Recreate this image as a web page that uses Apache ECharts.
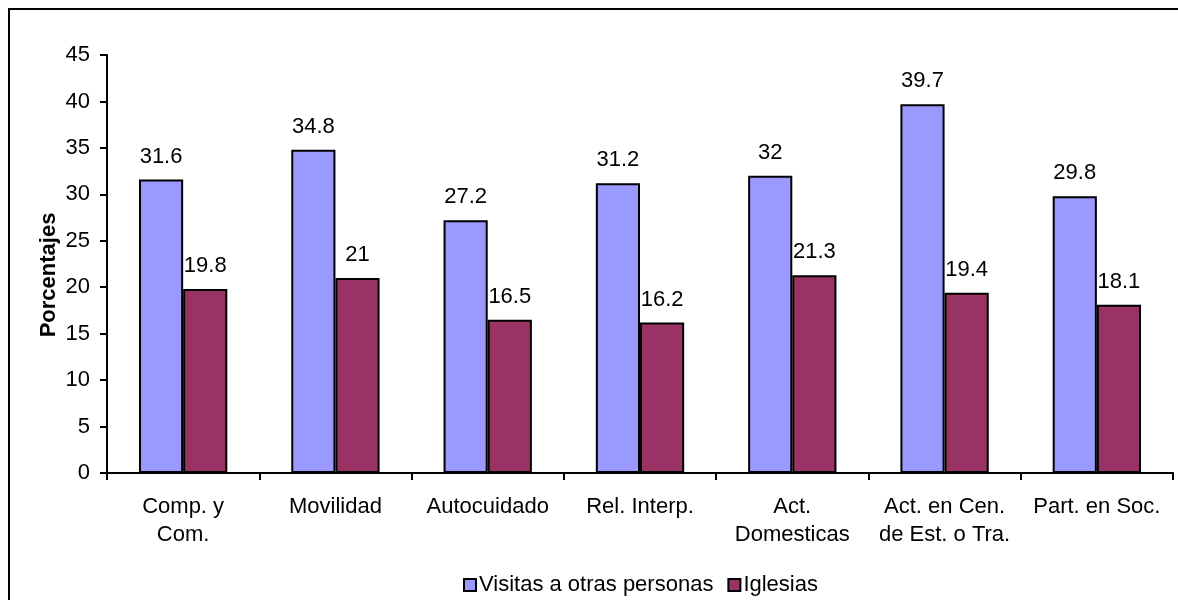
<!DOCTYPE html>
<html>
<head>
<meta charset="utf-8">
<script src="https://cdn.jsdelivr.net/npm/echarts@6/dist/echarts.min.js"></script>
<style>
  html, body { margin: 0; padding: 0; background: #fff; }
  #chart { width: 1178px; height: 600px; }
</style>
</head>
<body>
<div id="chart"></div>
<script>
// categorias del eje x
var categorias = ['Comp. y\nCom.', 'Movilidad', 'Autocuidado', 'Rel. Interp.', 'Act.\nDomesticas', 'Act. en Cen.\nde Est. o Tra.', 'Part. en Soc.'];
// valores por serie
var visitas = [31.6, 34.8, 27.2, 31.2, 32, 39.7, 29.8];
var iglesias = [19.8, 21, 16.5, 16.2, 21.3, 19.4, 18.1];
var nombres = ['Visitas a otras personas', 'Iglesias'];

var fuente = 'Liberation Sans, Arial, sans-serif';
var myChart = echarts.init(document.getElementById('chart'));

var etiqueta = {
    show: true,
    position: 'top',
    distance: 12,
    color: '#000',
    fontFamily: fuente,
    fontSize: 22
};

var option = {
    backgroundColor: '#fff',
    animation: false,
    textStyle: { fontFamily: fuente },
    grid: { left: 107, right: 5, top: 55, bottom: 127 },
    legend: {
        left: 458,
        top: 569,
        itemWidth: 12,
        itemHeight: 12,
        itemGap: 14,
        icon: 'rect',
        textStyle: { fontFamily: fuente, fontSize: 22, color: '#000', padding: [0, 0, 0, -2] },
        data: nombres
    },
    xAxis: {
        type: 'category',
        data: categorias,
        axisLine: { lineStyle: { color: '#000', width: 2 } },
        axisTick: { show: true, length: 7, lineStyle: { color: '#000', width: 2 } },
        axisLabel: { color: '#000', fontFamily: fuente, fontSize: 22, lineHeight: 28, margin: 20, interval: 0 }
    },
    yAxis: {
        type: 'value',
        min: 0,
        max: 45,
        interval: 5,
        splitLine: { show: false },
        axisLine: { show: true, lineStyle: { color: '#000', width: 2 } },
        axisTick: { show: true, length: 7, lineStyle: { color: '#000', width: 2 } },
        axisLabel: { color: '#000', fontFamily: fuente, fontSize: 22, margin: 17 }
    },
    graphic: [
        { // marco exterior
            type: 'rect',
            shape: { x: 9, y: 9, width: 1300, height: 800 },
            style: { fill: 'none', stroke: '#000', lineWidth: 2 }
        },
        {
            type: 'text',
            x: 49,
            y: 275,
            rotation: Math.PI / 2,
            style: {
                text: 'Porcentajes',
                font: 'bold 22px ' + fuente,
                fill: '#000',
                align: 'center',
                verticalAlign: 'middle'
            }
        }
    ],
    series: [
        {
            name: nombres[0],
            type: 'bar',
            data: visitas,
            barGap: '0%',
            barCategoryGap: '42%',
            itemStyle: { color: '#9999FF', borderColor: '#000', borderWidth: 2 },
            label: etiqueta
        },
        {
            name: nombres[1],
            type: 'bar',
            data: iglesias,
            itemStyle: { color: '#993366', borderColor: '#000', borderWidth: 2 },
            label: etiqueta
        }
    ]
};
myChart.setOption(option);
</script>
</body>
</html>
